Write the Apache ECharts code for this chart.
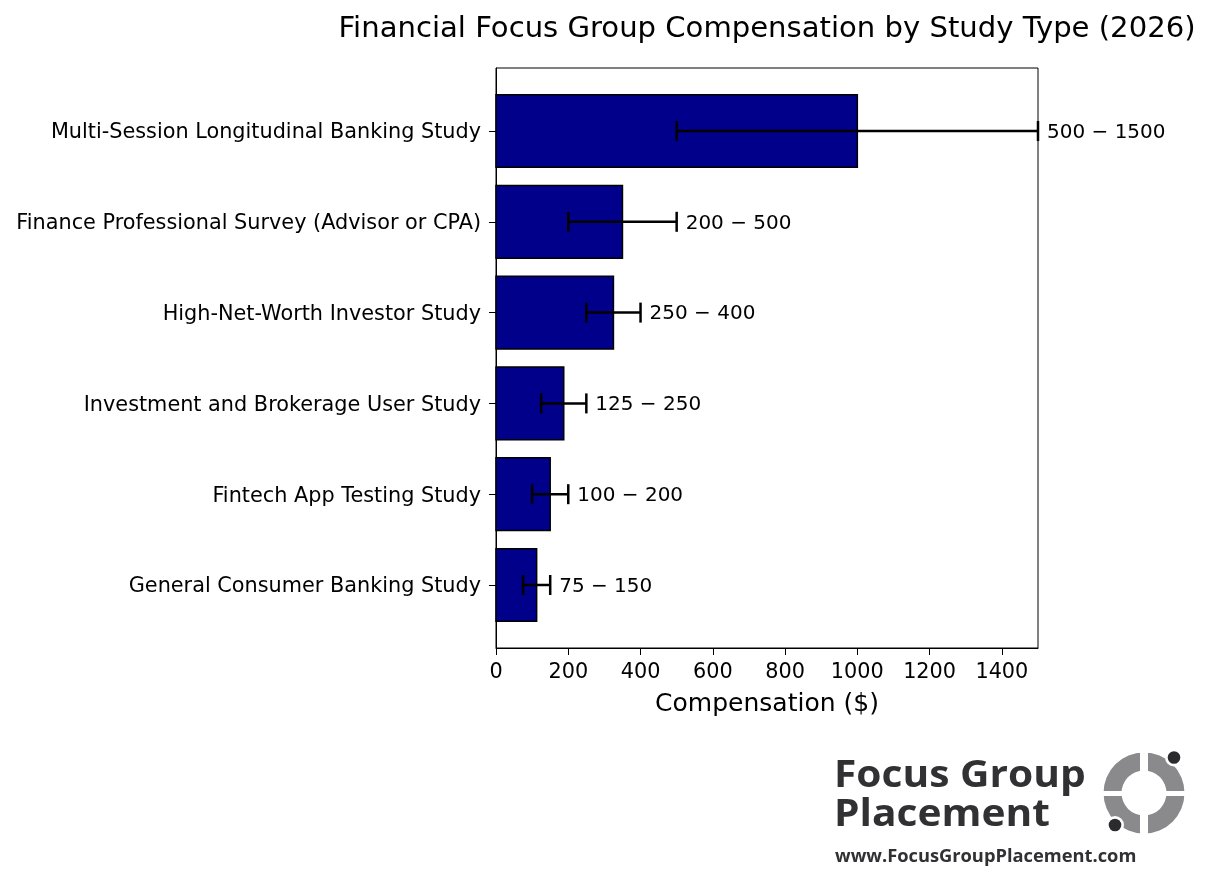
<!DOCTYPE html>
<html>
<head>
<meta charset="utf-8">
<script src="https://cdn.jsdelivr.net/npm/echarts@6/dist/echarts.min.js"></script>
<style>
html,body{margin:0;padding:0;background:#fff;}
#chart{width:1211px;height:891px;}
</style>
</head>
<body>
<div id="chart"></div>
<script>
// study types, top to bottom
var categories = [
	'Multi-Session Longitudinal Banking Study',
	'Finance Professional Survey (Advisor or CPA)',
	'High-Net-Worth Investor Study',
	'Investment and Brokerage User Study',
	'Fintech App Testing Study',
	'General Consumer Banking Study'
];
var lowValues = [500, 200, 250, 125, 100, 75];
var highValues = [1500, 500, 400, 250, 200, 150];
var midValues = [1000, 350, 325, 187.5, 150, 112.5];
var xTicks = [0, 200, 400, 600, 800, 1000, 1200, 1400];
var yTicks = [0, 1, 2, 3, 4, 5];

var font = 'DejaVu Sans';
var chart = echarts.init(document.getElementById('chart'));

var rows = [];
for (var i = 0; i < categories.length; i++) {
	rows.push([i, midValues[i], lowValues[i], highValues[i]]);
}

var option = {
	backgroundColor: '#fff',
	animation: false,
	title: {
		text: 'Financial Focus Group Compensation by Study Type (2026)',
		left: 762,
		textAlign: 'center',
		top: 10,
		textStyle: {fontFamily: font, fontSize: 29.1, fontWeight: 'normal', color: '#000'}
	},
	grid: {
		left: 496, top: 68, right: 173, bottom: 243,
		show: true, borderColor: '#000', borderWidth: 1, backgroundColor: 'transparent'
	},
	xAxis: {
		type: 'value',
		min: 0,
		max: 1500,
		name: 'Compensation ($)',
		nameLocation: 'middle',
		nameGap: 44,
		nameTextStyle: {fontFamily: font, fontSize: 25, color: '#000'},
		splitLine: {show: false},
		axisLine: {show: true, onZero: false, lineStyle: {color: '#000'}},
		axisTick: {show: true, length: 7, customValues: xTicks, lineStyle: {color: '#000'}},
		axisLabel: {customValues: xTicks, formatter: function(v) { return String(v); },
			fontFamily: font, fontSize: 20.8, color: '#000', margin: 14}
	},
	yAxis: {
		type: 'value',
		inverse: true,
		min: -0.694,
		max: 5.694,
		splitLine: {show: false},
		axisLine: {show: true, onZero: false, lineStyle: {color: '#000'}},
		axisTick: {show: true, length: 7, customValues: yTicks, lineStyle: {color: '#000'}},
		axisLabel: {customValues: yTicks, margin: 15,
			formatter: function(v) { return '{a|' + categories[Math.round(v)] + '}'; },
			rich: {a: {fontFamily: font, fontSize: 20.8, color: '#000', padding: [4, 0, 0, 0]}}}
	},
	series: [{
		type: 'custom',
		data: rows,
		renderItem: function(params, api) {
			var idx = api.value(0);
			var p0 = api.coord([0, idx - 0.4]);
			var p1 = api.coord([api.value(1), idx + 0.4]);
			return {
				type: 'rect',
				shape: {x: p0[0], y: p0[1], width: p1[0] - p0[0], height: p1[1] - p0[1]},
				style: {fill: '#00008B', stroke: '#000', lineWidth: 1.5}
			};
		}
	}, {
		type: 'custom',
		data: rows,
		z: 5,
		renderItem: function(params, api) {
			var idx = api.value(0);
			var lo = api.coord([api.value(2), idx]);
			var hi = api.coord([api.value(3), idx]);
			var cap = 10;
			var st = {stroke: '#000', lineWidth: 2.5};
			return {
				type: 'group',
				children: [
					{type: 'line', shape: {x1: lo[0], y1: lo[1], x2: hi[0], y2: hi[1]}, style: st},
					{type: 'line', shape: {x1: lo[0], y1: lo[1] - cap, x2: lo[0], y2: lo[1] + cap}, style: st},
					{type: 'line', shape: {x1: hi[0], y1: hi[1] - cap, x2: hi[0], y2: hi[1] + cap}, style: st},
					{type: 'text', x: hi[0] + 9, y: hi[1] + 1.5, style: {
						text: api.value(2) + ' \u2212 ' + api.value(3),
						fontFamily: font, fontSize: 20, fill: '#000',
						verticalAlign: 'middle', align: 'left'
					}}
				]
			};
		}
	}],
	graphic: [
		{type: 'text', x: 834, y: 776, scaleX: 1.1, style: {text: 'Focus Group', font: 'bold 37px "Open Sans"', fill: '#313134', verticalAlign: 'middle'}},
		{type: 'text', x: 834, y: 815, scaleX: 1.1, style: {text: 'Placement', font: 'bold 37px "Open Sans"', fill: '#313134', verticalAlign: 'middle'}},
		{type: 'text', x: 835, y: 857, style: {text: 'www.FocusGroupPlacement.com', font: 'bold 18.3px "Open Sans"', fill: '#313134', verticalAlign: 'middle'}},
		// logo ring with parallel gaps
		{type: 'ring', shape: {cx: 1144, cy: 793, r: 40.5, r0: 22.5}, style: {fill: '#8a8a8c'}},
		{type: 'rect', shape: {x: 1140, y: 750, width: 8, height: 86}, style: {fill: '#fff'}},
		{type: 'rect', shape: {x: 1100, y: 791, width: 90, height: 5}, style: {fill: '#fff'}},
		{type: 'circle', shape: {cx: 1174, cy: 757.5, r: 9}, style: {fill: '#fff'}},
		{type: 'circle', shape: {cx: 1115, cy: 825, r: 9}, style: {fill: '#fff'}},
		{type: 'circle', shape: {cx: 1174, cy: 757.5, r: 6.3}, style: {fill: '#2b2b2e'}},
		{type: 'circle', shape: {cx: 1115, cy: 825, r: 6.3}, style: {fill: '#2b2b2e'}}
	]
};
chart.setOption(option);
</script>
</body>
</html>
